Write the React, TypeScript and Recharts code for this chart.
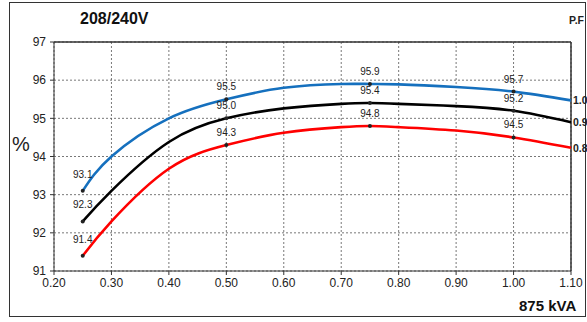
import {
  LineChart,
  Line,
  XAxis,
  YAxis,
  CartesianGrid,
  ReferenceLine,
} from "recharts";

// load fraction of 875 kVA
const LOAD = [0.25, 0.3, 0.4, 0.5, 0.6, 0.7, 0.75, 0.8, 0.9, 1.0, 1.1];
const PF_10 = [93.1, 94.0, 95.0, 95.5, 95.8, 95.9, 95.9, 95.89, 95.82, 95.7, 95.47];
const PF_09 = [92.3, 93.1, 94.38, 95.0, 95.26, 95.38, 95.4, 95.38, 95.32, 95.2, 94.9];
const PF_08 = [91.4, 92.3, 93.68, 94.3, 94.62, 94.77, 94.8, 94.77, 94.68, 94.5, 94.23];
const LABELED = [0.25, 0.5, 0.75, 1.0];
const PF_NAMES = ["1.0", "0.9", "0.8"];
const X_TICKS = [0.2, 0.3, 0.4, 0.5, 0.6, 0.7, 0.8, 0.9, 1.0, 1.1];
const Y_TICKS = [91, 92, 93, 94, 95, 96, 97];

const FONT = "'Liberation Sans', Arial, sans-serif";

const toPoints = (vals: number[]) => LOAD.map((x, i) => ({ x, y: vals[i] }));

const SERIES = [
  { name: PF_NAMES[0], color: "#1570be", data: toPoints(PF_10) },
  { name: PF_NAMES[1], color: "#000000", data: toPoints(PF_09) },
  { name: PF_NAMES[2], color: "#ff0000", data: toPoints(PF_08) },
];

function makeDot(pf: string) {
  return (p: any) => {
    const { cx, cy, index, payload } = p;
    if (index === LOAD.length - 1) {
      return (
        <text
          key={`pf-${pf}`}
          x={cx + 2}
          y={cy + 4}
          fontSize={10.5}
          fontWeight="bold"
          fill="#222"
        >
          {pf}
        </text>
      );
    }
    if (!LABELED.includes(payload.x)) return <g key={`n-${pf}-${index}`} />;
    const dy = index === 0 ? -13 : -9;
    return (
      <g key={`d-${pf}-${index}`}>
        <circle cx={cx} cy={cy} r={2} fill="#222" />
        <text x={cx} y={cy + dy} textAnchor="middle" fontSize={10} fill="#222">
          {payload.y.toFixed(1)}
        </text>
      </g>
    );
  };
}

export default function App() {
  return (
    <div style={{ position: "absolute", left: 0, top: 0, width: 587, height: 322, background: "#fff", fontFamily: FONT }}>
      <div
        style={{
          position: "absolute",
          left: 9,
          top: 2,
          width: 577,
          height: 315,
          border: "1.5px solid #333",
          boxSizing: "border-box",
        }}
      />
      <div style={{ position: "absolute", left: 80, top: 10, fontSize: 16, fontWeight: "bold", color: "#111" }}>
        208/240V
      </div>
      <div style={{ position: "absolute", left: 569, top: 14, fontSize: 10.5, fontWeight: "bold", color: "#222" }}>
        P.F
      </div>
      <div style={{ position: "absolute", left: 12, top: 133, fontSize: 20, color: "#222" }}>%</div>
      <div style={{ position: "absolute", left: 519, top: 297, fontSize: 15, fontWeight: "bold", color: "#111" }}>
        875 kVA
      </div>
      <LineChart
        width={587}
        height={322}
        margin={{ top: 42, right: 16, bottom: 21, left: 24 }}
        style={{ position: "absolute", left: 0, top: 0, fontFamily: FONT }}
      >
        <CartesianGrid stroke="#555" strokeDasharray="2 2" strokeWidth={0.8} />
        <XAxis
          dataKey="x"
          type="number"
          domain={[0.2, 1.1]}
          ticks={X_TICKS}
          tickFormatter={(v) => Number(v).toFixed(2)}
          allowDuplicatedCategory={false}
          height={30}
          tickSize={4}
          tickMargin={3}
          stroke="#333"
          tick={{ fill: "#222", fontSize: 12 }}
        />
        <YAxis
          type="number"
          domain={[91, 97]}
          ticks={Y_TICKS}
          width={30}
          tickSize={4}
          tickMargin={4}
          stroke="#333"
          tick={{ fill: "#222", fontSize: 12 }}
        />
        <ReferenceLine y={97} stroke="#333" strokeWidth={1.5} />
        <ReferenceLine x={1.1} stroke="#333" strokeWidth={1.5} />
        {SERIES.map((s) => (
          <Line
            key={s.name}
            data={s.data}
            dataKey="y"
            type="natural"
            stroke={s.color}
            strokeWidth={2.6}
            dot={makeDot(s.name)}
            activeDot={false}
            isAnimationActive={false}
          />
        ))}
      </LineChart>
    </div>
  );
}
